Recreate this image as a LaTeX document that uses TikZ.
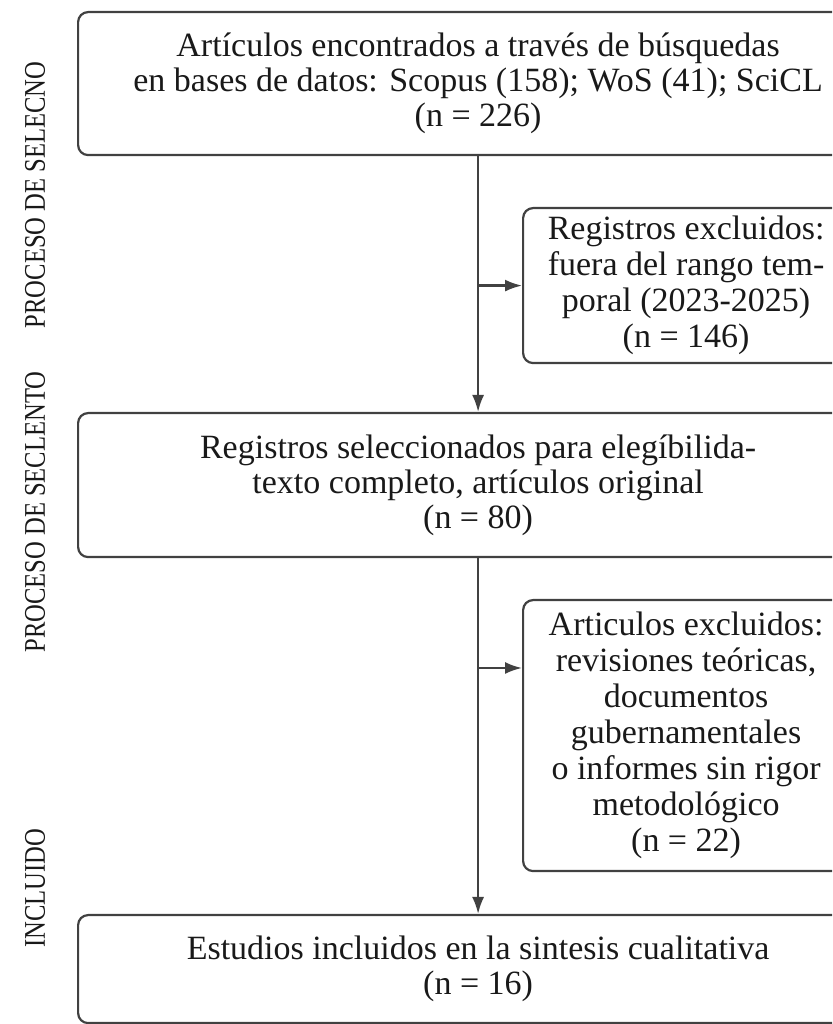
\documentclass[tikz,border=0pt]{standalone}
\usepackage{fontspec}
\setmainfont{Liberation Serif}
\newfontfamily\phasefont[FakeStretch=0.82]{Liberation Serif}
\usetikzlibrary{arrows.meta,positioning}
\definecolor{lineGray}{RGB}{65,65,65}
\definecolor{textGray}{RGB}{25,25,25}

\begin{document}
\begin{tikzpicture}[x=1pt,y=1pt,
    mainbox/.style={draw=lineGray,line width=2.2pt,rounded corners=10pt,
      minimum width=800pt,anchor=north west,align=center,text=textGray,
      font=\fontsize{34}{35}\selectfont,inner sep=0pt},
    sidebox/.style={mainbox,minimum width=326pt,font=\fontsize{34}{36}\selectfont},
    phase/.style={rotate=90,text=textGray,font=\phasefont\fontsize{30}{30}\selectfont},
    flow/.style={draw=lineGray,line width=2.2pt,-{Latex[length=17pt,width=12pt]}}]

  \useasboundingbox (0,0) rectangle (832,1024);
  \clip (0,0) rectangle (832,1024);

  % the boxes of the flow
  \node[mainbox,minimum height=143pt] (search) at (77,1013)
    {Artículos encontrados a través de búsquedas\\
     en bases de datos: Scopus (158); WoS (41); SciCL\\(n = 226)};
  \node[sidebox,minimum height=155pt] (excl1) at (522,817)
    {Registros excluidos:\\fuera del rango tem-\\poral (2023-2025)\\(n = 146)};
  \node[mainbox,minimum height=144pt] (screen) at (77,612)
    {Registros seleccionados para elegíbilida-\\
     texto completo, artículos original\\(n = 80)};
  \node[sidebox,minimum height=271pt] (excl2) at (522,425)
    {Articulos excluidos:\\revisiones teóricas,\\documentos\\gubernamentales\\
     o informes sin rigor\\metodológico\\(n = 22)};
  \node[mainbox,minimum height=108pt] (incl) at (77,110)
    {Estudios incluidos en la sintesis cualitativa\\(n = 16)};

  % the phases on the left
  \node[phase] (phase1) at (35,829) {PROCESO DE SELECNO};
  \node[phase] (phase2) at (35,512) {PROCESO DE SECLENTO};
  \node[phase] (phase3) at (35,136) {INCLUIDO};

  % the arrows
  \draw[flow] (search.south) -- (screen.north);
  \draw[flow] (screen.south) -- (incl.north);
  \coordinate (b1) at (search.south |- excl1.west);
  \coordinate (b2) at (screen.south |- 0,356);
  \draw[flow] (b1) -- (excl1.west);
  \draw[flow] (b2) -- (b2 -| excl2.west);

\end{tikzpicture}
\end{document}
